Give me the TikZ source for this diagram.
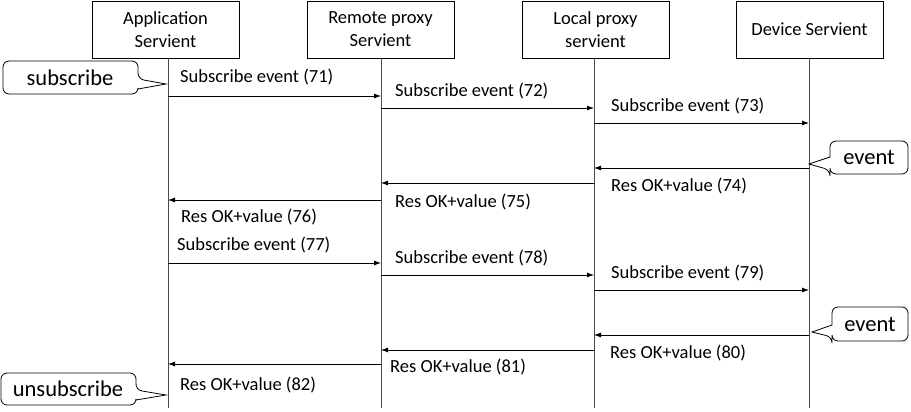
\documentclass[tikz,border=0pt]{standalone}
\usepackage{fontspec}
\setmainfont{Carlito}
\usetikzlibrary{arrows.meta}
\begin{document}
\begin{tikzpicture}[x=1pt,y=-1pt,
  actor/.style={draw,line width=0.8pt,minimum width=147pt,minimum height=57pt,inner sep=0pt,align=center,font=\fontsize{18.5}{23}\selectfont},
  life/.style={draw=black!70,line width=0.8pt},
  msg/.style={draw,line width=0.8pt,-{Latex[length=7pt,width=5pt]}},
  lbl/.style={anchor=west,inner sep=0pt,font=\fontsize{18.5}{22}\selectfont},
  note/.style={draw,line width=0.8pt,rounded corners=6pt},
  notetxt/.style={inner sep=0pt,font=\fontsize{22.5}{26}\selectfont}]
\useasboundingbox (0,0) rectangle (911,412);
% actors
\node[actor] (app) at (165.5,29.5) {Application\\Servient};
\node[actor] (rem) at (380.5,29.5) {Remote proxy\\Servient};
\node[actor] (loc) at (595.5,29.5) {Local proxy\\servient};
\node[actor] (dev) at (809.5,29.5) {Device Servient};
% lifelines
\coordinate (A) at (168,58);  \coordinate (Ab) at (168,408);
\coordinate (R) at (381,58);  \coordinate (Rb) at (381,408);
\coordinate (L) at (594,58);  \coordinate (Lb) at (594,408);
\coordinate (D) at (809,58);  \coordinate (Db) at (809,408);
\draw[life] (A) -- (Ab);
\draw[life] (R) -- (Rb);
\draw[life] (L) -- (Lb);
\draw[life] (D) -- (Db);
% messages
\draw[msg] (A |- 0,96) -- (R |- 0,96);
\node[lbl] (m71) at (180,77) {Subscribe event (71)};
\draw[msg] (R |- 0,108) -- (L |- 0,108);
\node[lbl] (m72) at (395,91) {Subscribe event (72)};
\draw[msg] (L |- 0,123) -- (D |- 0,123);
\node[lbl] (m73) at (611,106) {Subscribe event (73)};
\draw[msg] (D |- 0,168) -- (L |- 0,168);
\node[lbl] (m74) at (611,186) {Res OK+value (74)};
\draw[msg] (L |- 0,183) -- (R |- 0,183);
\node[lbl] (m75) at (395,202) {Res OK+value (75)};
\draw[msg] (R |- 0,200) -- (A |- 0,200);
\node[lbl] (m76) at (181,217) {Res OK+value (76)};
\draw[msg] (A |- 0,263) -- (R |- 0,263);
\node[lbl] (m77) at (177,245) {Subscribe event (77)};
\draw[msg] (R |- 0,275) -- (L |- 0,275);
\node[lbl] (m78) at (395,258) {Subscribe event (78)};
\draw[msg] (L |- 0,290) -- (D |- 0,290);
\node[lbl] (m79) at (611,273) {Subscribe event (79)};
\draw[msg] (D |- 0,335) -- (L |- 0,335);
\node[lbl] (m80) at (610,353) {Res OK+value (80)};
\draw[msg] (L |- 0,350) -- (R |- 0,350);
\node[lbl] (m81) at (390,367) {Res OK+value (81)};
\draw[msg] (R |- 0,364) -- (A |- 0,364);
\node[lbl] (m82) at (180,385) {Res OK+value (82)};
% callouts
\draw[note,fill=white] (3,61) -- (138,61) -- (138,79) [sharp corners] -- (166,84) -- (138,89) [rounded corners=6pt] -- (138,94) -- (3,94) -- cycle;
\node[notetxt] (n1) at (70,77.5) {subscribe};
\draw[note,fill=white] (1,373) -- (136,373) -- (136,390) [sharp corners] -- (166,395) -- (136,400) [rounded corners=6pt] -- (136,405) -- (1,405) -- cycle;
\node[notetxt] (n2) at (68,389) {unsubscribe};
\draw[note,fill=white] (830,141) -- (908,141) -- (908,174) -- (830,174) -- (830,170) [sharp corners] -- (809,164) -- (830,157) [rounded corners=6pt] -- cycle;
\node[notetxt] (n3) at (869,157.5) {event};
\draw[note,fill=white] (832,307) -- (908,307) -- (908,341) -- (832,341) -- (832,337) [sharp corners] -- (812,332) -- (832,325) [rounded corners=6pt] -- cycle;
\node[notetxt] (n4) at (870,324) {event};
\end{tikzpicture}
\end{document}
